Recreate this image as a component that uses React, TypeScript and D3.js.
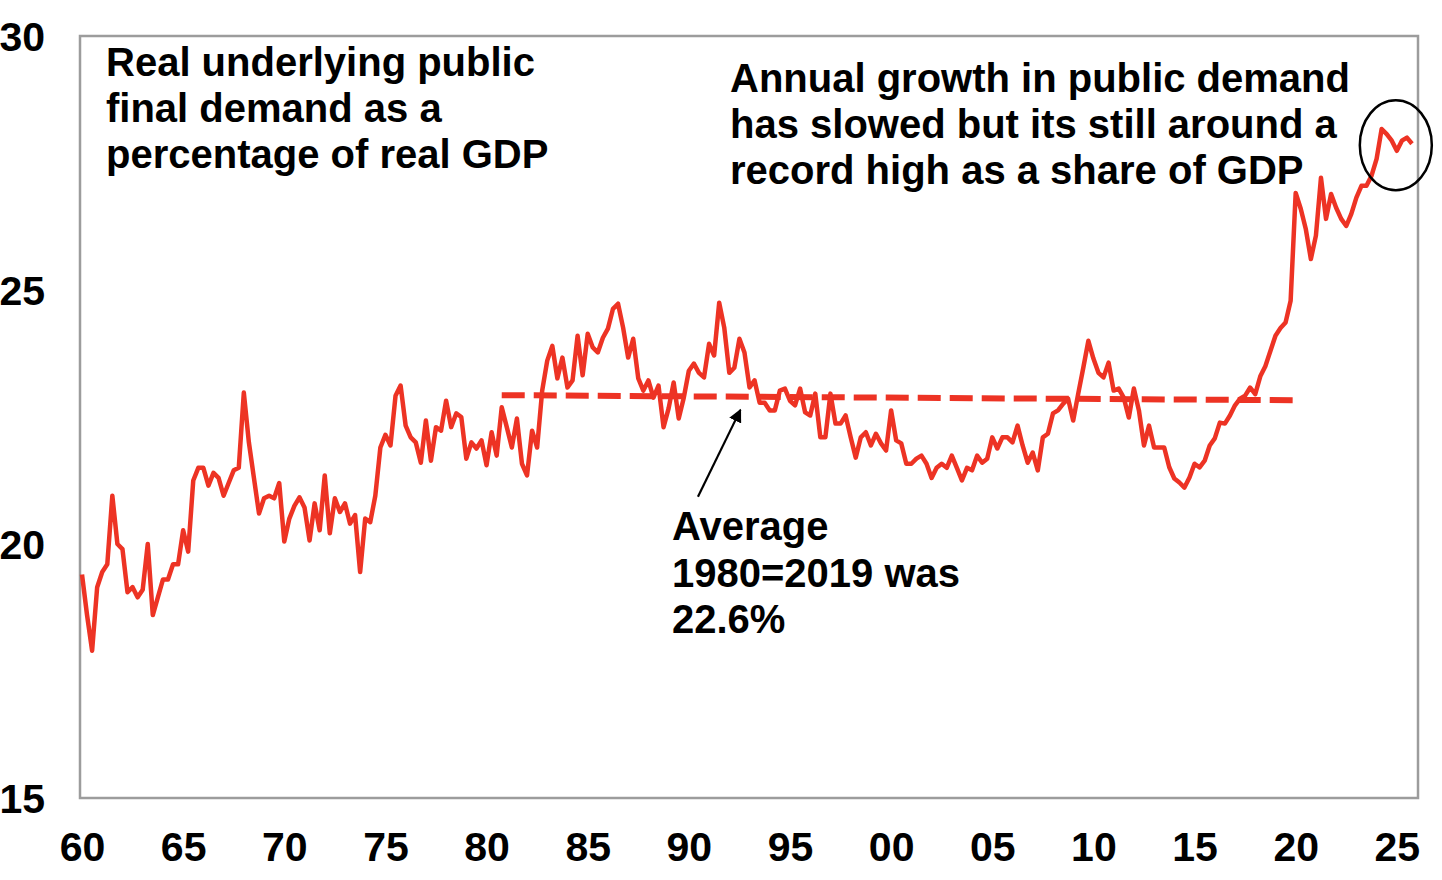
import { useEffect, useRef } from 'react';
import * as d3 from 'd3';

// quarterly, from 1960 Q1
const startYear = 1960;
const publicDemandShare = [
  19.4, 18.6, 17.9, 19.15, 19.45, 19.6, 20.95, 20.0, 19.9, 19.05,
  19.15, 18.95, 19.1, 20.0, 18.6, 18.95, 19.3, 19.3, 19.6, 19.6,
  20.27, 19.85, 21.25, 21.5, 21.5, 21.15, 21.4, 21.3, 20.95, 21.2,
  21.45, 21.5, 22.98, 22.0, 21.3, 20.6, 20.9, 20.95, 20.9, 21.2,
  20.05, 20.5, 20.75, 20.92, 20.72, 20.07, 20.8, 20.27, 21.35, 20.21,
  20.9, 20.63, 20.8, 20.4, 20.57, 19.45, 20.5, 20.43, 20.95, 21.9,
  22.15, 21.94, 22.92, 23.12, 22.33, 22.1, 22.0, 21.6, 22.43, 21.64,
  22.3, 22.23, 22.82, 22.3, 22.57, 22.5, 21.68, 22.0, 21.88, 22.04,
  21.55, 22.2, 21.74, 22.69, 22.3, 21.9, 22.47, 21.58, 21.35, 22.23,
  21.9, 23.02, 23.61, 23.9, 23.26, 23.67, 23.08, 23.22, 24.1, 23.32,
  24.14, 23.87, 23.77, 24.06, 24.24, 24.63, 24.73, 24.26, 23.67, 24.04,
  23.26, 23.02, 23.22, 22.88, 23.12, 22.3, 22.67, 23.18, 22.47, 22.88,
  23.41, 23.55, 23.37, 23.28, 23.94, 23.71, 24.75, 24.26, 23.37, 23.47,
  24.04, 23.77, 23.08, 23.22, 22.78, 22.78, 22.63, 22.63, 23.02, 23.06,
  22.82, 22.73, 23.06, 22.59, 22.53, 22.96, 22.1, 22.1, 22.96, 22.37,
  22.37, 22.53, 22.1, 21.7, 22.1, 22.2, 21.94, 22.17, 21.98, 21.84,
  22.63, 22.04, 21.98, 21.58, 21.58, 21.68, 21.74, 21.58, 21.3, 21.5,
  21.58, 21.5, 21.74, 21.5, 21.25, 21.5, 21.45, 21.74, 21.6, 21.68,
  22.1, 21.88, 22.1, 22.1, 22.0, 22.33, 21.94, 21.6, 21.8, 21.45,
  22.1, 22.17, 22.57, 22.63, 22.76, 22.86, 22.43, 22.96, 23.47, 24.0,
  23.65, 23.37, 23.28, 23.57, 23.02, 23.06, 22.88, 22.49, 23.06, 22.63,
  21.94, 22.33, 21.9, 21.9, 21.9, 21.51, 21.29, 21.21, 21.11, 21.31,
  21.58, 21.51, 21.64, 21.94, 22.08, 22.39, 22.37, 22.53, 22.73, 22.86,
  22.92, 23.08, 22.95, 23.3, 23.5, 23.8, 24.1, 24.25, 24.36, 24.79,
  26.91, 26.6, 26.2, 25.61, 26.07, 27.21, 26.4, 26.89, 26.62, 26.4,
  26.26, 26.5, 26.82, 27.05, 27.05, 27.25, 27.58, 28.17, 28.07, 27.94,
  27.74, 27.94, 28.0, 27.88,
];

const averageYears = [1980.75, 2019.85];
const averageValues = [22.93, 22.83];

const xTickYears = [1960, 1965, 1970, 1975, 1980, 1985, 1990, 1995, 2000, 2005, 2010, 2015, 2020, 2025];
const yTicks = [15, 20, 25, 30];

const titleLines = ['Real underlying public', 'final demand as a', 'percentage of real GDP'];
const noteLines = ['Annual growth in public demand', 'has slowed but its still around a', 'record high as a share of GDP'];
const averageLines = ['Average', '1980=2019 was', '22.6%'];

// arrow tail/head and circled point, in data units
const arrowFrom = { year: 1990.45, value: 20.93 };
const arrowTo = { year: 1992.55, value: 22.64 };
const circled = { year: 2024.95, value: 27.85 };

const FONT = "'Liberation Sans', Arial, Helvetica, sans-serif";
const RED = '#ED3324';

export default function App() {
  const svgRef = useRef<SVGSVGElement>(null);

  useEffect(() => {
    if (!svgRef.current) return;
    const svg = d3.select(svgRef.current);
    svg.selectAll('*').remove();

    const plot = { left: 80, right: 1418, top: 36, bottom: 798 };

    const lastYear = startYear + (publicDemandShare.length - 1) / 4;
    const x = d3.scaleLinear().domain([startYear, lastYear]).range([82, 1412]);
    const y = d3.scaleLinear().domain([15, 30]).range([plot.bottom, plot.top]);

    svg.append('rect')
      .attr('width', 1442)
      .attr('height', 880)
      .attr('fill', '#fff');

    // plot frame
    svg.append('rect')
      .attr('x', plot.left)
      .attr('y', plot.top)
      .attr('width', plot.right - plot.left)
      .attr('height', plot.bottom - plot.top)
      .attr('fill', 'none')
      .attr('stroke', '#9c9c9c')
      .attr('stroke-width', 2.5);

    const xAxis = d3.axisBottom(x)
      .tickValues(xTickYears)
      .tickSize(0)
      .tickFormat(d => String((d as number) % 100).padStart(2, '0'));

    const gx = svg.append('g')
      .attr('transform', `translate(0,${plot.bottom})`)
      .call(xAxis);
    gx.select('.domain').remove();
    gx.selectAll('text')
      .attr('y', 63)
      .attr('dy', 0)
      .attr('fill', '#000')
      .attr('font-family', FONT)
      .attr('font-weight', 'bold')
      .attr('font-size', 41);

    const yAxis = d3.axisLeft(y)
      .tickValues(yTicks)
      .tickSize(0)
      .tickFormat(d => `${d}`);

    const gy = svg.append('g')
      .attr('transform', `translate(${plot.left},0)`)
      .call(yAxis);
    gy.select('.domain').remove();
    gy.selectAll('text')
      .attr('x', -35)
      .attr('dy', '0.36em')
      .attr('fill', '#000')
      .attr('font-family', FONT)
      .attr('font-weight', 'bold')
      .attr('font-size', 41);

    // 1980-2019 average
    const avgLine = d3.line<number>()
      .x((_, i) => x(averageYears[i]))
      .y(d => y(d));

    svg.append('path')
      .datum(averageValues)
      .attr('d', avgLine)
      .attr('fill', 'none')
      .attr('stroke', RED)
      .attr('stroke-width', 6)
      .attr('stroke-dasharray', '23 9');

    const line = d3.line<number>()
      .x((_, i) => x(startYear + i / 4))
      .y(d => y(d));

    svg.append('path')
      .datum(publicDemandShare)
      .attr('d', line)
      .attr('fill', 'none')
      .attr('stroke', RED)
      .attr('stroke-width', 4.5)
      .attr('stroke-linejoin', 'round');

    // arrow
    svg.append('defs')
      .append('marker')
      .attr('id', 'arrow-head')
      .attr('viewBox', '0 0 10 10')
      .attr('refX', 9)
      .attr('refY', 5)
      .attr('markerWidth', 6)
      .attr('markerHeight', 6)
      .attr('markerUnits', 'strokeWidth')
      .attr('orient', 'auto')
      .append('path')
      .attr('d', 'M0,0L10,5L0,10Z')
      .attr('fill', '#000');

    svg.append('line')
      .attr('x1', x(arrowFrom.year))
      .attr('y1', y(arrowFrom.value))
      .attr('x2', x(arrowTo.year))
      .attr('y2', y(arrowTo.value))
      .attr('stroke', '#000')
      .attr('stroke-width', 2.2)
      .attr('marker-end', 'url(#arrow-head)');

    svg.append('ellipse')
      .attr('cx', x(circled.year))
      .attr('cy', y(circled.value))
      .attr('rx', 36)
      .attr('ry', 45)
      .attr('fill', 'none')
      .attr('stroke', '#000')
      .attr('stroke-width', 2.5);

    const textBlock = (lines: string[], left: number, firstBaseline: number, step: number) => {
      svg.append('g')
        .selectAll('text')
        .data(lines)
        .enter()
        .append('text')
        .attr('x', left)
        .attr('y', (_, i) => firstBaseline + i * step)
        .attr('fill', '#000')
        .attr('font-family', FONT)
        .attr('font-weight', 'bold')
        .attr('font-size', 40)
        .text(d => d);
    };

    textBlock(titleLines, 106, 76, 46);
    textBlock(noteLines, 730, 92, 46);
    textBlock(averageLines, 672, 540, 46.5);
  }, []);

  return (
    <svg
      ref={svgRef}
      width={1442}
      height={880}
      style={{ position: 'absolute', left: 0, top: 0 }}
    />
  );
}
